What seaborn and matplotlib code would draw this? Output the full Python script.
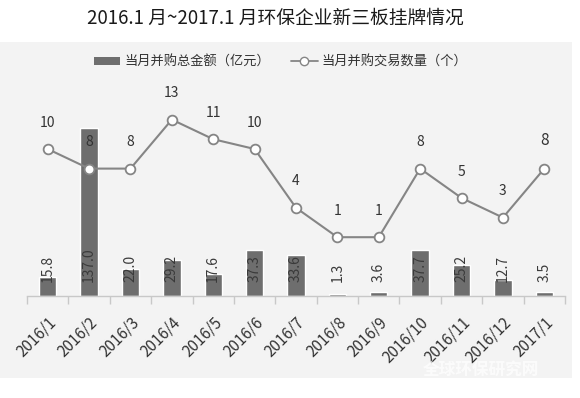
import matplotlib
matplotlib.use("Agg")
import matplotlib.pyplot as plt
from matplotlib.patches import Rectangle, Patch
from matplotlib.lines import Line2D
import numpy as np
import seaborn as sns

months = ["2016/1", "2016/2", "2016/3", "2016/4", "2016/5", "2016/6", "2016/7",
          "2016/8", "2016/9", "2016/10", "2016/11", "2016/12", "2017/1"]
amounts = [15.8, 137.0, 22.0, 29.2, 17.6, 37.3, 33.6, 1.3, 3.6, 37.7, 25.2, 12.7, 3.5]
counts = [10, 8, 8, 13, 11, 10, 4, 1, 1, 8, 5, 3, 8]

title = "2016.1 月~2017.1 月环保企业新三板挂牌情况"
bar_name = "当月并购总金额（亿元）"
line_name = "当月并购交易数量（个）"
watermark = "全球环保研究网"

sns.set_theme(style="white")
plt.rcParams['font.family'] = ['Noto Sans CJK SC', 'DejaVu Sans']

bar_color = "#6e6e6e"
line_color = "#858585"
text_color = "#333333"

fig = plt.figure(figsize=(5.8, 3.98), dpi=100)
fig.patch.set_facecolor("white")
fig.patches.append(Rectangle((0, 20 / 398), 572 / 580, 336 / 398, transform=fig.transFigure,
                             facecolor="#f3f3f3", edgecolor="none", zorder=-10))

ax = fig.add_axes([27 / 580, 1 - 296 / 398, (565 - 27) / 580, 196 / 398])
ax.set_facecolor("none")
sns.barplot(x=months, y=amounts, color=bar_color, width=0.42, saturation=1, ax=ax, zorder=2)
ax.set_ylim(0, 160)
for i, v in enumerate(amounts):
    ax.annotate(f"{v:.1f}", xy=(i, 0), xytext=(0, 10), textcoords="offset points",
                rotation=90, ha="center", va="bottom", fontsize=10, color="#3a3a3a", zorder=5)

ax2 = ax.twinx()
sns.lineplot(x=np.arange(len(months)), y=counts, color=line_color, linewidth=1.5,
             marker="o", markersize=7, markerfacecolor="white", markeredgecolor=line_color,
             markeredgewidth=1.3, ax=ax2, zorder=4)
ax2.set_ylim(-5, 15)
for i, v in enumerate(counts):
    fs = 11 if i == len(counts) - 1 else 10
    ax2.annotate(f"{v}", xy=(i, v), xytext=(0, 14), textcoords="offset points",
                 ha="center", va="bottom", fontsize=fs, color=text_color)

for a in (ax, ax2):
    for s in ["top", "right", "left"]:
        a.spines[s].set_visible(False)
    a.set_yticks([])
    a.set_ylabel("")
ax2.spines["bottom"].set_visible(False)
ax.spines["bottom"].set_color("#c8c8c8")
ax.spines["bottom"].set_linewidth(1.0)

ax.set_xlim(-0.5, len(months) - 0.5)
ax.set_xticks(np.arange(len(months)))
ax.set_xticklabels(months, rotation=45, ha="right", va="top", rotation_mode="anchor",
                   fontsize=11, color=text_color)
ax.tick_params(axis="x", which="major", length=0, pad=13, labelbottom=True)
ax.set_xticks(np.arange(len(months) + 1) - 0.5, minor=True)
ax.tick_params(axis="x", which="minor", length=6, color="#c8c8c8", width=1.0, bottom=True)
ax.set_xlabel("")
ax2.set_xlabel("")

fig.text(0.475, 1 - 18 / 398, title, ha="center", va="center", fontsize=13.5,
         color="#1a1a1a", fontweight="medium")

handles = [Patch(facecolor=bar_color, edgecolor="none"),
           Line2D([0], [0], color=line_color, marker="o", markersize=6,
                  markerfacecolor="white", markeredgecolor=line_color, linewidth=1.3)]
fig.legend(handles, [bar_name, line_name], loc="center", bbox_to_anchor=(0.484, 1 - 62 / 398),
           ncol=2, frameon=False, fontsize=9.5, handlelength=2.0, handleheight=0.5,
           columnspacing=1.6, handletextpad=0.3, labelcolor="#333333")

fig.text(0.83, 1 - 370 / 398, watermark, ha="center", va="center", fontsize=12,
         color="white", alpha=0.75, fontweight="bold")

fig.savefig("out.png", dpi=100, facecolor="white")
